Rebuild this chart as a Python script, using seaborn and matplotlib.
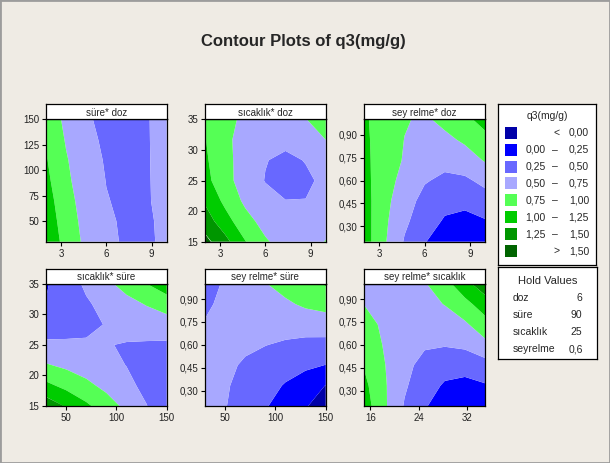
import numpy as np
import matplotlib
matplotlib.use("Agg")
import matplotlib.pyplot as plt
import seaborn as sns
from matplotlib.patches import Rectangle

# contour bands of q3 (mg/g) and their colours
level_edges = [0.0, 0.25, 0.5, 0.75, 1.0, 1.25, 1.5]
band_colors = ['#0000A8', '#0000FF', '#6868FF', '#A8A8FF',
               '#55FF55', '#00CC00', '#009600', '#006400']
legend_low = ['', '0,00', '0,25', '0,50', '0,75', '1,00', '1,25', '']
legend_high = ['0,00', '0,25', '0,50', '0,75', '1,00', '1,25', '1,50', '1,50']

# factor ranges (grid spans these, 7 nodes each)
doz_range = [2, 10]
sure_range = [30, 150]
sicaklik_range = [15, 35]
seyrelme_range = [0.2, 1.0]

doz_ticks = [3, 6, 9]
sure_ticks_y = [50, 75, 100, 125, 150]
sure_ticks_x = [50, 100, 150]
sicaklik_ticks_y = [15, 20, 25, 30, 35]
sicaklik_ticks_x = [16, 24, 32]
seyrelme_ticks = [0.30, 0.45, 0.60, 0.75, 0.90]
seyrelme_labels = ['0,30', '0,45', '0,60', '0,75', '0,90']

hold_names = ['doz', 'süre', 'sıcaklık', 'seyrelme']
hold_values = ['6', '90', '25', '0,6']

# q3, rows = bottom -> top, cols = left -> right
q3_sure_doz = [
    [1.20, 0.91, 0.69, 0.55, 0.47, 0.47, 0.54],
    [1.16, 0.87, 0.67, 0.53, 0.47, 0.47, 0.55],
    [1.11, 0.84, 0.64, 0.51, 0.46, 0.48, 0.57],
    [1.06, 0.80, 0.61, 0.495, 0.45, 0.48, 0.58],
    [1.02, 0.77, 0.59, 0.48, 0.44, 0.48, 0.59],
    [0.97, 0.73, 0.56, 0.46, 0.43, 0.48, 0.60],
    [0.93, 0.69, 0.53, 0.44, 0.43, 0.48, 0.61],
]
q3_sicaklik_doz = [
    [1.58, 1.33, 1.01, 0.78, 0.64, 0.64, 0.76],
    [1.38, 1.10, 0.84, 0.66, 0.58, 0.58, 0.66],
    [1.22, 0.94, 0.70, 0.58, 0.505, 0.505, 0.58],
    [1.08, 0.83, 0.64, 0.49, 0.42, 0.46, 0.55],
    [1.04, 0.81, 0.66, 0.51, 0.45, 0.51, 0.62],
    [1.01, 0.80, 0.66, 0.58, 0.56, 0.62, 0.75],
    [0.97, 0.82, 0.70, 0.62, 0.64, 0.745, 0.82],
]
q3_seyrelme_doz = [
    [1.12, 0.78, 0.48, 0.26, 0.15, 0.08, 0.08],
    [1.11, 0.80, 0.54, 0.38, 0.22, 0.18, 0.23],
    [1.10, 0.82, 0.61, 0.42, 0.33, 0.31, 0.40],
    [1.08, 0.84, 0.68, 0.52, 0.45, 0.46, 0.56],
    [1.06, 0.87, 0.73, 0.60, 0.57, 0.63, 0.77],
    [1.04, 0.90, 0.745, 0.66, 0.69, 0.79, 0.95],
    [1.03, 0.90, 0.77, 0.71, 0.82, 0.96, 1.06],
]
q3_sicaklik_sure = [
    [1.407, 1.227, 1.047, 0.867, 0.687, 0.507, 0.327],
    [1.059, 0.934, 0.810, 0.685, 0.561, 0.437, 0.312],
    [0.771, 0.703, 0.634, 0.565, 0.496, 0.427, 0.358],
    [0.545, 0.532, 0.519, 0.505, 0.492, 0.479, 0.465],
    [0.380, 0.422, 0.465, 0.507, 0.549, 0.591, 0.633],
    [0.262, 0.374, 0.472, 0.569, 0.667, 0.765, 0.863],
    [0.225, 0.387, 0.540, 0.693, 0.847, 0.998, 1.153],
]
q3_seyrelme_sure = [
    [0.62, 0.51, 0.40, 0.27, 0.14, 0.01, -0.07],
    [0.62, 0.52, 0.44, 0.34, 0.23, 0.11, -0.005],
    [0.62, 0.55, 0.47, 0.41, 0.35, 0.30, 0.245],
    [0.60, 0.58, 0.54, 0.505, 0.47, 0.44, 0.42],
    [0.52, 0.58, 0.60, 0.59, 0.59, 0.60, 0.63],
    [0.45, 0.57, 0.62, 0.66, 0.71, 0.79, 0.83],
    [0.40, 0.53, 0.65, 0.74, 0.84, 0.93, 1.02],
]
q3_seyrelme_sicaklik = [
    [1.12, 0.79, 0.48, 0.27, 0.14, 0.09, 0.10],
    [1.06, 0.78, 0.53, 0.36, 0.22, 0.19, 0.23],
    [0.98, 0.76, 0.56, 0.43, 0.35, 0.33, 0.40],
    [0.92, 0.73, 0.60, 0.525, 0.515, 0.55, 0.68],
    [0.83, 0.71, 0.63, 0.59, 0.60, 0.71, 0.90],
    [0.745, 0.66, 0.62, 0.66, 0.76, 0.92, 1.13],
    [0.69, 0.63, 0.64, 0.73, 0.91, 1.17, 1.40],
]

panels = [
    ('süre* doz', doz_range, sure_range, doz_ticks, [str(t) for t in doz_ticks],
     sure_ticks_y, [str(t) for t in sure_ticks_y], q3_sure_doz),
    ('sıcaklık* doz', doz_range, sicaklik_range, doz_ticks, [str(t) for t in doz_ticks],
     sicaklik_ticks_y, [str(t) for t in sicaklik_ticks_y], q3_sicaklik_doz),
    ('sey relme* doz', doz_range, seyrelme_range, doz_ticks, [str(t) for t in doz_ticks],
     seyrelme_ticks, seyrelme_labels, q3_seyrelme_doz),
    ('sıcaklık* süre', sure_range, sicaklik_range, sure_ticks_x, [str(t) for t in sure_ticks_x],
     sicaklik_ticks_y, [str(t) for t in sicaklik_ticks_y], q3_sicaklik_sure),
    ('sey relme* süre', sure_range, seyrelme_range, sure_ticks_x, [str(t) for t in sure_ticks_x],
     seyrelme_ticks, seyrelme_labels, q3_seyrelme_sure),
    ('sey relme* sıcaklık', sicaklik_range, seyrelme_range, sicaklik_ticks_x,
     [str(t) for t in sicaklik_ticks_x], seyrelme_ticks, seyrelme_labels, q3_seyrelme_sicaklik),
]

bg = '#EFEBE4'
sns.set_style("ticks")
plt.rcParams['font.family'] = ['Liberation Sans', 'DejaVu Sans']

fig = plt.figure(figsize=(6.1, 4.63), dpi=100, facecolor=bg)
fig.patches.append(Rectangle((0, 0), 1, 1, transform=fig.transFigure, fill=False,
                             edgecolor='#9c9c9c', lw=2))

fig.text(0.498, 0.911, 'Contour Plots of q3(mg/g)', ha='center', va='center',
         fontsize=12, fontweight='bold')

lefts = [0.0754, 0.3361, 0.5972]
bottoms = [0.478, 0.1231]
w, h, hh = 0.1979, 0.2640, 0.0324
levels = [-10] + level_edges + [10]

for i, (title, xr, yr, xt, xtl, yt, ytl, z) in enumerate(panels):
    left = lefts[i % 3]
    bottom = bottoms[i // 3]
    ax = fig.add_axes([left, bottom, w, h])
    gx = np.linspace(xr[0], xr[1], 7)
    gy = np.linspace(yr[0], yr[1], 7)
    ax.contourf(gx, gy, np.array(z), levels=levels, colors=band_colors, antialiased=True)
    ax.set_xlim(xr)
    ax.set_ylim(yr)
    ax.set_xticks(xt)
    ax.set_xticklabels(xtl)
    ax.set_yticks(yt)
    ax.set_yticklabels(ytl)
    ax.tick_params(direction='out', length=3, width=0.8, labelsize=7, pad=2,
                   color='black', labelcolor='#222222')
    for s in ax.spines.values():
        s.set_color('black')
        s.set_linewidth(0.9)

    hx = fig.add_axes([left, bottom + h, w, hh], facecolor='white')
    hx.set_xticks([])
    hx.set_yticks([])
    for s in hx.spines.values():
        s.set_color('black')
        s.set_linewidth(0.9)
    hx.text(0.5, 0.45, title, ha='center', va='center', fontsize=7, transform=hx.transAxes)

# colour key
lx = fig.add_axes([0.8164, 0.4276, 0.1607, 0.3477], facecolor='white')
lx.set_xlim(0, 98)
lx.set_ylim(161, 0)
lx.set_xticks([])
lx.set_yticks([])
for s in lx.spines.values():
    s.set_color('black')
    s.set_linewidth(0.9)
lx.text(49, 12, 'q3(mg/g)', ha='center', va='center', fontsize=7.5)
for k, c in enumerate(band_colors):
    yc = 28.7 + 16.9 * k
    lx.add_patch(Rectangle((7, yc - 6), 12, 12, facecolor=c, edgecolor='none'))
    if k == 0:
        lx.text(59, yc, '<', ha='center', va='center', fontsize=7.5)
    elif k == len(band_colors) - 1:
        lx.text(59, yc, '>', ha='center', va='center', fontsize=7.5)
    else:
        lx.text(27.5, yc, legend_low[k], ha='left', va='center', fontsize=7.5)
        lx.text(57, yc, '–', ha='center', va='center', fontsize=7.5)
    lx.text(91, yc, legend_high[k], ha='right', va='center', fontsize=7.5)

# hold values
hx = fig.add_axes([0.8164, 0.2246, 0.1623, 0.1987], facecolor='white')
hx.set_xlim(0, 99)
hx.set_ylim(92, 0)
hx.set_xticks([])
hx.set_yticks([])
for s in hx.spines.values():
    s.set_color('black')
    s.set_linewidth(0.9)
hx.text(49.5, 13.7, 'Hold Values', ha='center', va='center', fontsize=8)
for k, (n, v) in enumerate(zip(hold_names, hold_values)):
    yc = 31.3 + 17 * k
    hx.text(15, yc, n, ha='left', va='center', fontsize=7.5)
    hx.text(84.5, yc, v, ha='right', va='center', fontsize=7.5)

fig.savefig('out.png', dpi=100, facecolor=bg)
